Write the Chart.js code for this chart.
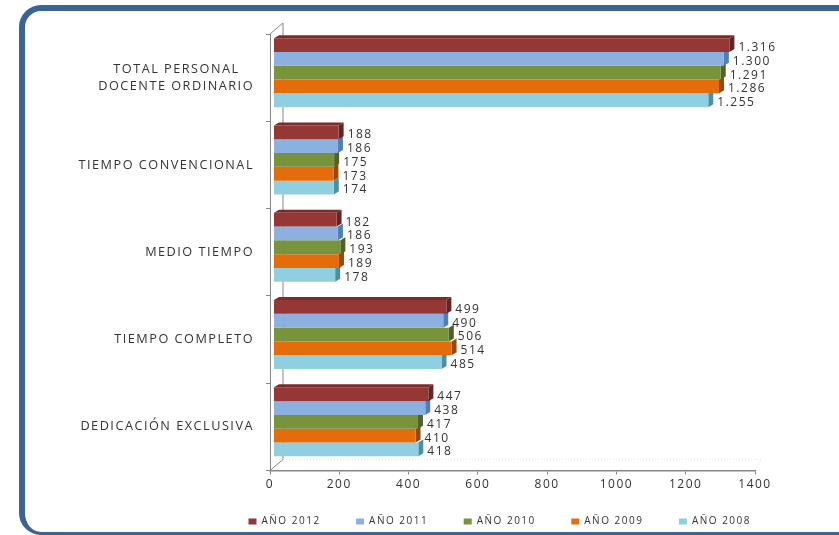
<!DOCTYPE html>
<html>
<head>
<meta charset="utf-8">
<title>Personal docente</title>
<script src="https://cdn.jsdelivr.net/npm/chart.js@4"></script>
<style>
    html, body { margin: 0; padding: 0; background: #fff; width: 839px; height: 535px; overflow: hidden; }
    #frame { position: absolute; left: 19px; top: 5px; width: 900px; height: 521px; border: 6.5px solid #3a6496; border-bottom-width: 3.5px; border-radius: 22px; }
    canvas { position: absolute; left: 0; top: 0; }
</style>
</head>
<body>
<div id="frame"></div>
<canvas id="chart" width="839" height="535"></canvas>
<script>
const categories = [
    ['TOTAL PERSONAL', 'DOCENTE ORDINARIO'],
    'TIEMPO CONVENCIONAL',
    'MEDIO TIEMPO',
    'TIEMPO COMPLETO',
    'DEDICACIÓN EXCLUSIVA'
];
const seriesNames = ['AÑO 2012', 'AÑO 2011', 'AÑO 2010', 'AÑO 2009', 'AÑO 2008'];
const values2012 = [1316, 188, 182, 499, 447];
const values2011 = [1300, 186, 186, 490, 438];
const values2010 = [1291, 175, 193, 506, 417];
const values2009 = [1286, 173, 189, 514, 410];
const values2008 = [1255, 174, 178, 485, 418];
const seriesValues = [values2012, values2011, values2010, values2009, values2008];
const frontColors = ['#953735', '#8cb0e0', '#77933c', '#e46c0a', '#8fcfe0'];
const sideColors = ['#632423', '#4f7fb8', '#4f6228', '#984807', '#4a8fa3'];

const textColor = '#333333';
const axisColor = '#868686';
const spacing = '1.5px';
const depthX = 5, depthY = 3;      // bar extrusion
const wallX = 13, wallY = 11;      // back wall offset
const shiftX = 3.5, shiftY = -5;   // bars sit between front and back plane

// 1316 -> 1.316
const formatValue = v => v >= 1000 ? Math.floor(v / 1000) + '.' + String(v % 1000).padStart(3, '0') : String(v);

const letterSpacingPlugin = {
    id: 'letterSpacing',
    beforeUpdate(chart) { chart.ctx.letterSpacing = spacing; }
};

// put the legend where the reference has it
const legendPlacePlugin = {
    id: 'legendPlace',
    afterLayout(chart) {
        const l = chart.legend;
        l.left = 213;
        l.right = 839;
        l.top = 481;
        l.bottom = 535;
    }
};

const wallsPlugin = {
    id: 'walls',
    beforeDatasetsDraw(chart) {
        const { ctx, chartArea: a } = chart;
        ctx.save();
        ctx.strokeStyle = axisColor;
        ctx.lineWidth = 1;
        ctx.beginPath();
        ctx.moveTo(a.left, a.top);
        ctx.lineTo(a.left + wallX, a.top - wallY);
        ctx.lineTo(a.left + wallX, a.bottom - wallY);
        ctx.lineTo(a.left, a.bottom);
        ctx.stroke();
        ctx.strokeStyle = '#e2e2e2';
        ctx.setLineDash([1, 2]);
        ctx.beginPath();
        ctx.moveTo(a.left + wallX, a.bottom - wallY);
        ctx.lineTo(a.right + 6, a.bottom - wallY);
        ctx.lineTo(a.right, a.bottom);
        ctx.stroke();
        ctx.restore();
    }
};

const bars3dPlugin = {
    id: 'bars3d',
    beforeDatasetsDraw(chart) {
        const ctx = chart.ctx;
        ctx.save();
        ctx.translate(shiftX, shiftY);
        for (let d = seriesValues.length - 1; d >= 0; d--) {
            ctx.fillStyle = sideColors[d];
            chart.getDatasetMeta(d).data.forEach(bar => {
                const top = bar.y - bar.height / 2, bottom = bar.y + bar.height / 2;
                ctx.beginPath();
                ctx.moveTo(bar.x, top);
                ctx.lineTo(bar.x + depthX, top - depthY);
                ctx.lineTo(bar.x + depthX, bottom - depthY);
                ctx.lineTo(bar.x, bottom);
                ctx.closePath();
                ctx.fill();
                if (d === 0) {
                    ctx.fillStyle = '#7a2c2b';
                    ctx.beginPath();
                    ctx.moveTo(bar.base, top);
                    ctx.lineTo(bar.base + depthX, top - depthY);
                    ctx.lineTo(bar.x + depthX, top - depthY);
                    ctx.lineTo(bar.x, top);
                    ctx.closePath();
                    ctx.fill();
                    ctx.fillStyle = sideColors[d];
                }
            });
        }
        // stays translated until the datasets are drawn
    },
    afterDatasetsDraw(chart) {
        const ctx = chart.ctx;
        ctx.restore();
        ctx.save();
        ctx.fillStyle = textColor;
        ctx.font = '12px "Open Sans"';
        ctx.letterSpacing = spacing;
        ctx.textBaseline = 'middle';
        ctx.textAlign = 'left';
        seriesValues.forEach((vals, d) => {
            chart.getDatasetMeta(d).data.forEach((bar, i) => {
                ctx.fillText(formatValue(vals[i]), bar.x + shiftX + 9, bar.y + shiftY + 2.5);
            });
        });
        ctx.restore();
    }
};

new Chart(document.getElementById('chart'), {
    type: 'bar',
    data: {
        labels: categories,
        datasets: seriesNames.map((name, i) => ({
            label: name,
            data: seriesValues[i],
            backgroundColor: frontColors[i],
            categoryPercentage: 0.79,
            barPercentage: 1
        }))
    },
    options: {
        indexAxis: 'y',
        responsive: false,
        animation: false,
        layout: { padding: { left: 0, right: 84, top: 34, bottom: -26 } },
        plugins: {
            tooltip: { enabled: false },
            legend: {
                position: 'bottom',
                align: 'start',
                labels: {
                    boxWidth: 8,
                    boxHeight: 6,
                    padding: 35.5,
                    color: textColor,
                    font: { family: '"Open Sans"', size: 10 }
                }
            }
        },
        scales: {
            x: {
                min: 0,
                max: 1400,
                afterFit(scale) { scale.height = 35; },
                border: { color: axisColor, dash: [2, 1], width: 1.5 },
                grid: { drawOnChartArea: false, drawTicks: true, tickLength: 4, color: axisColor },
                ticks: {
                    stepSize: 200,
                    maxRotation: 0,
                    padding: 3,
                    color: textColor,
                    font: { family: '"Open Sans"', size: 12 },
                    callback: value => String(value)
                }
            },
            y: {
                afterFit(scale) { scale.width = 270; },
                border: { color: axisColor, width: 1 },
                grid: { drawOnChartArea: false, tickLength: 4, color: axisColor },
                ticks: {
                    padding: 12,
                    color: textColor,
                    font: { family: '"Open Sans"', size: 12.7, lineHeight: 1.34 },
                    autoSkip: false,
                    callback(value, i) {
                        const label = categories[i];
                        // first line is centred over the second one in the reference
                        return Array.isArray(label) ? [label[0] + '\u00a0\u00a0\u00a0', label[1]] : label;
                    }
                }
            }
        }
    },
    plugins: [letterSpacingPlugin, legendPlacePlugin, wallsPlugin, bars3dPlugin]
});
</script>
</body>
</html>
